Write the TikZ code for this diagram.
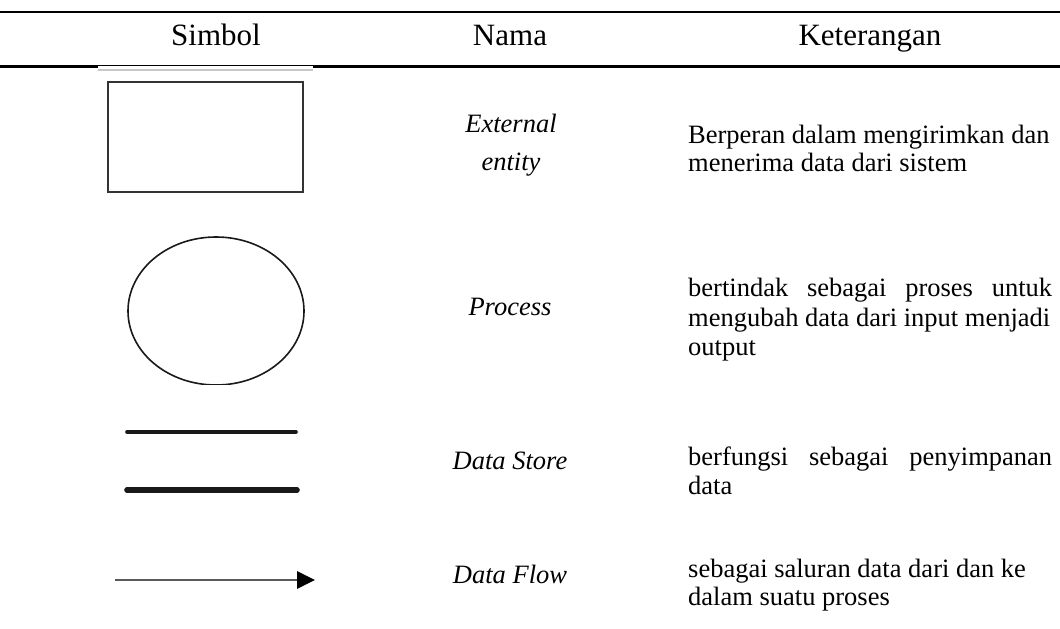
\documentclass[tikz,border=0pt]{standalone}
\usepackage{fontspec}
\setmainfont{Liberation Serif}
\usetikzlibrary{arrows.meta,shapes.geometric}
\begin{document}
\begin{tikzpicture}[x=1bp,y=-1bp,
  head/.style={font=\fontsize{31bp}{36bp}\selectfont, anchor=base, inner sep=0pt},
  itemname/.style={font=\fontsize{26.5bp}{30bp}\selectfont\itshape, anchor=base, inner sep=0pt},
  desc/.style={font=\fontsize{26.5bp}{30bp}\selectfont, anchor=base west, inner sep=0pt},
  rulethick/.style={line width=2.4bp, black},
  symline/.style={black!90, line cap=round}]
\useasboundingbox[fill=white] (0,0) rectangle (1060,629);

% table rules
\coordinate (r1a) at (0,12);
\coordinate (r1b) at (1060,12);
\draw[rulethick] (r1a) -- (r1b);
\coordinate (r2a) at (0,66.5);
\coordinate (r2b) at (98,66.5);
\coordinate (r2c) at (313,66.5);
\coordinate (r2d) at (1060,66.5);
\draw[rulethick] (r2a) -- (r2b);
\draw[rulethick] (r2c) -- (r2d);
\draw[line width=1.2bp] (98,65.8) -- (313,65.8);
\draw[black!22, line width=1.5bp] (98,70) -- (313,70);

% header
\node[head] (hsym) at (216,46) {Simbol};
\node[head] (hname) at (510,46) {Nama};
\node[head] (hdesc) at (870,46) {Keterangan};

% symbols
\node[draw=black!80, line width=2bp, minimum width=195bp, minimum height=110bp,
      inner sep=0pt] (ent) at (205.5,137) {};
\begin{scope}
  \clip (0,0) rectangle (1060,384.5);
  \node[ellipse, draw=black!90, line width=1.6bp, minimum width=176bp,
        minimum height=148bp, inner sep=0pt] (proc) at (216,311) {};
\end{scope}
\coordinate (dsa1) at (127,432);
\coordinate (dsb1) at (296,432);
\coordinate (dsa2) at (127,490);
\coordinate (dsb2) at (297,490);
\draw[symline, line width=3.6bp] (dsa1) -- (dsb1);
\draw[symline, line width=5.6bp] (dsa2) -- (dsb2);
\coordinate (dfa) at (115,580);
\coordinate (dfb) at (315,580);
\draw[black!65, line width=2.8bp,
      -{Triangle[length=18bp, width=17bp, color=black]}] (dfa) -- (dfb);

% names
\node[itemname] (n1a) at (511,133) {External};
\node[itemname] (n1b) at (511,171) {entity};
\node[itemname] (n2) at (510,316) {Process};
\node[itemname] (n3) at (510,469) {Data Store};
\node[itemname] (n4) at (510,583) {Data Flow};

% descriptions
\node[desc] (d1a) at (688,144) {Berperan dalam mengirimkan dan};
\node[desc] (d1b) at (688,172) {menerima data dari sistem};
\node[desc] (d2a) at (688,297) {\makebox[364bp][s]{bertindak sebagai proses untuk}};
\node[desc] (d2b) at (688,326) {mengubah data dari input menjadi};
\node[desc] (d2c) at (688,355) {output};
\node[desc] (d3a) at (688,465) {\makebox[364bp][s]{berfungsi sebagai penyimpanan}};
\node[desc] (d3b) at (688,494) {data};
\node[desc] (d4a) at (688,577) {sebagai saluran data dari dan ke};
\node[desc] (d4b) at (688,605) {dalam suatu proses};
\end{tikzpicture}
\end{document}
